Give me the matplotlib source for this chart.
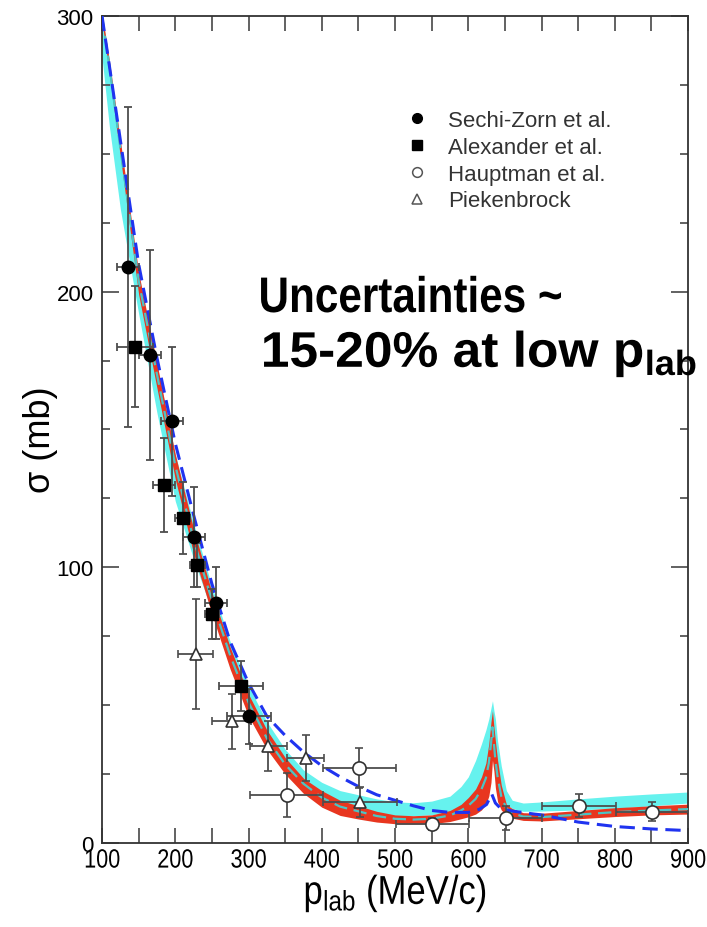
import matplotlib.pyplot as plt
from matplotlib import patheffects
from matplotlib.lines import Line2D
from matplotlib.ticker import MultipleLocator
from matplotlib.transforms import Affine2D

# Lambda-p total cross section data (p_lab in MeV/c, sigma in mb)
sz_p = [135, 165, 195, 225, 255, 300]
sz_sig = [209, 177, 153, 111, 87, 46]
sz_dp = [15, 15, 15, 15, 15, 30]
sz_dsig = [58, 38, 27, 18, 13, 10]

alex_p = [145, 185, 210, 230, 250, 290]
alex_sig = [180, 130, 118, 101, 83, 57]
alex_dp = [25, 15, 10, 10, 10, 30]
alex_dsig = [22, 17, 13, 8, 9, 9]

haupt_p = [352, 451, 551, 651, 751, 851]
haupt_sig = [17.4, 27.2, 6.9, 9.1, 13.5, 11.4]
haupt_dp = [50, 50, 50, 50, 50, 50]
haupt_dsig = [8, 7.3, 2, 4.4, 4.2, 3.3]

piek_p = [228, 277, 327, 378, 452]
piek_sig = [68.6, 44.1, 35.3, 30.8, 14.8]
piek_dp = [24, 27, 25, 25, 50]
piek_dsig = [20, 10, 9, 8.3, 5.5]

# theory bands
band_p = [100, 110, 125, 150, 175, 200, 225, 250, 275, 300, 325, 350, 375, 400,
          425, 450, 475, 500, 525, 550, 575, 590, 600, 610, 618, 624, 628, 631,
          633, 635, 637, 640, 645, 652, 660, 675, 700, 750, 800, 850, 900]
red_lo = [298, 279, 249, 199, 165, 132, 105, 83, 63, 46, 34, 25, 18, 13,
          10, 8.7, 7.6, 7.0, 6.9, 7.0, 7.8, 8.8, 9.5, 10.5, 12, 14, 17, 22,
          30, 26, 20, 15, 12, 10, 9, 8.2, 8, 8.8, 9.6, 10.2, 10.5]
red_hi = [301, 284, 255, 207, 174, 141, 114, 91, 71, 54, 41, 31, 23.5, 19,
          15.5, 13.5, 11.5, 10.2, 9.9, 10.2, 11.8, 14, 16.5, 19.6, 24, 29, 36, 44,
          48, 42, 37, 30, 21, 14, 12.5, 11, 10.8, 11.8, 12.8, 13.5, 14.1]
teal_mid = [300, 282, 252, 204, 170, 137, 110, 88, 68, 51, 38, 28.5, 21.5, 16.5,
            13.2, 11.5, 9.8, 8.8, 8.5, 8.8, 10, 11.8, 13.5, 16, 19.5, 23.5, 29, 36,
            42, 36, 30, 24, 17, 12.5, 10.8, 9.6, 9.4, 10.3, 11.2, 11.8, 12.3]
cyan_lo = [285, 260, 230, 192, 156, 124, 103, 84, 65, 48, 36, 27, 20.5, 15.5,
           12.5, 11, 10, 9.9, 9.9, 10.2, 11.5, 13, 14.5, 16.5, 19, 22, 26, 32,
           40, 38, 30, 22, 17, 14, 12.5, 11.5, 11.6, 12, 12.6, 13.5, 14.5]
cyan_hi = [301, 283, 253, 205, 173, 141, 116, 93, 73, 57, 44, 34, 26.5, 22,
           19, 17.5, 16, 15, 14.6, 15.2, 17, 20.5, 24, 30, 36, 41, 45, 49,
           51.6, 48, 45, 37, 28, 19, 15.5, 14.5, 14.9, 16, 17, 17.8, 18.5]

blue_p = [100, 125, 150, 175, 200, 225, 250, 275, 300, 325, 350, 375, 400, 425,
          450, 475, 500, 525, 550, 575, 600, 615, 625, 632, 637, 645, 660, 690,
          700, 750, 800, 850, 900]
blue_sig = [300, 255, 210, 176, 145, 119, 94, 73, 58, 46, 39, 33, 28, 24,
            20.5, 17.5, 15.5, 13.5, 11.8, 11.1, 11.1, 12.2, 14, 17.8, 14.5, 12.3, 11.6, 10.5,
            10.2, 7.6, 6.0, 5.1, 4.5]

labels = ['Sechi-Zorn et al.', 'Alexander et al.', 'Hauptman et al.', 'Piekenbrock']


class Condensed(patheffects.AbstractPathEffect):
    """Squeeze drawn text horizontally about its left edge or its centre."""

    def __init__(self, sx, about='left'):
        super().__init__()
        self.sx = sx
        self.about = about

    def draw_path(self, renderer, gc, tpath, affine, rgbFace=None):
        ext = tpath.get_extents()
        x0 = ext.x0 if self.about == 'left' else 0.5 * (ext.x0 + ext.x1)
        squeeze = Affine2D().translate(-x0, 0).scale(self.sx, 1).translate(x0, 0)
        renderer.draw_path(gc, tpath, squeeze + affine, rgbFace)


plt.rcParams['font.family'] = ['Liberation Sans', 'DejaVu Sans']

fig = plt.figure(figsize=(7.07, 9.28), dpi=100)
ax = fig.add_axes([0.1443, 0.0905, 0.8289, 0.8912])

ax.fill_between(band_p, cyan_lo, cyan_hi, color='#66f2ee', lw=0, zorder=1)
ax.fill_between(band_p, red_lo, red_hi, color='#e8361f', lw=0, zorder=2)
ax.plot(band_p, teal_mid, color='#4cc4c4', lw=1.6, ls=(0, (6, 3)), zorder=3)
ax.plot(blue_p, blue_sig, color='#1f33f0', lw=2.2, ls=(0, (5, 2.5)), zorder=4)

ebar = dict(ls='none', ecolor='#4d4d4d', elinewidth=1.3, capsize=3, capthick=1.3, zorder=5)
ax.errorbar(sz_p, sz_sig, xerr=sz_dp, yerr=sz_dsig, marker='o', ms=9,
            mfc='black', mec='black', **ebar)
ax.errorbar(alex_p, alex_sig, xerr=alex_dp, yerr=alex_dsig, marker='s', ms=8,
            mfc='black', mec='black', **ebar)
ax.errorbar(haupt_p, haupt_sig, xerr=haupt_dp, yerr=haupt_dsig, marker='o', ms=9.5,
            mfc='white', mec='#333333', mew=1.2, **ebar)
ax.errorbar(piek_p, piek_sig, xerr=piek_dp, yerr=piek_dsig, marker='^', ms=9,
            mfc='white', mec='#333333', mew=1.2, **ebar)

ax.set_xlim(100, 900)
ax.set_ylim(0, 300)
ax.xaxis.set_major_locator(MultipleLocator(100))
ax.xaxis.set_minor_locator(MultipleLocator(50))
ax.yaxis.set_major_locator(MultipleLocator(100))
ax.yaxis.set_minor_locator(MultipleLocator(25))

ax.tick_params(which='both', direction='in', top=True, right=True,
               color='#555555', width=1.3)
ax.tick_params(axis='y', which='major', length=12, pad=6, labelsize=16)
ax.tick_params(axis='y', which='minor', length=6)
ax.tick_params(axis='x', which='major', length=11, pad=4, labelsize=19)
ax.tick_params(axis='x', which='minor', length=11)
for lbl in ax.get_xticklabels():
    lbl.set_path_effects([Condensed(0.82, 'center')])
for sp in ax.spines.values():
    sp.set_color('#333333')
    sp.set_linewidth(1.3)

ax.set_xlabel(r'p$_{\mathregular{lab}}$ (MeV/c)', fontsize=29, va='baseline',
              path_effects=[Condensed(0.86, 'center')])
ax.xaxis.set_label_coords(0.5, -0.0738)
ax.set_ylabel('σ (mb)', fontsize=26, va='center', ha='center')
ax.yaxis.set_label_coords(-0.1058, 0.4885)

handles = [
    Line2D([], [], ls='none', marker='o', ms=7, mfc='black', mec='black'),
    Line2D([], [], ls='none', marker='s', ms=6.5, mfc='black', mec='black'),
    Line2D([], [], ls='none', marker='o', ms=7, mfc='white', mec='#555555', mew=1.1),
    Line2D([], [], ls='none', marker='^', ms=7, mfc='white', mec='#555555', mew=1.1),
]
leg = ax.legend(handles, labels, loc='upper left', bbox_to_anchor=(0.5188, 0.8863),
                frameon=False, borderpad=0, borderaxespad=0, handlelength=1.0,
                handletextpad=0.9, labelspacing=0.26, fontsize=16, numpoints=1)
for t in leg.get_texts():
    t.set_color('#333333')

fig.text(0.365, 0.6627, 'Uncertainties ~', fontsize=36, weight='bold',
         va='baseline', path_effects=[Condensed(0.845)])
fig.text(0.369, 0.6034, r'15-20% at low p$_{\mathregular{lab}}$', fontsize=36,
         weight='bold', va='baseline', path_effects=[Condensed(1.03)])

fig.savefig('out.png', dpi=100)
